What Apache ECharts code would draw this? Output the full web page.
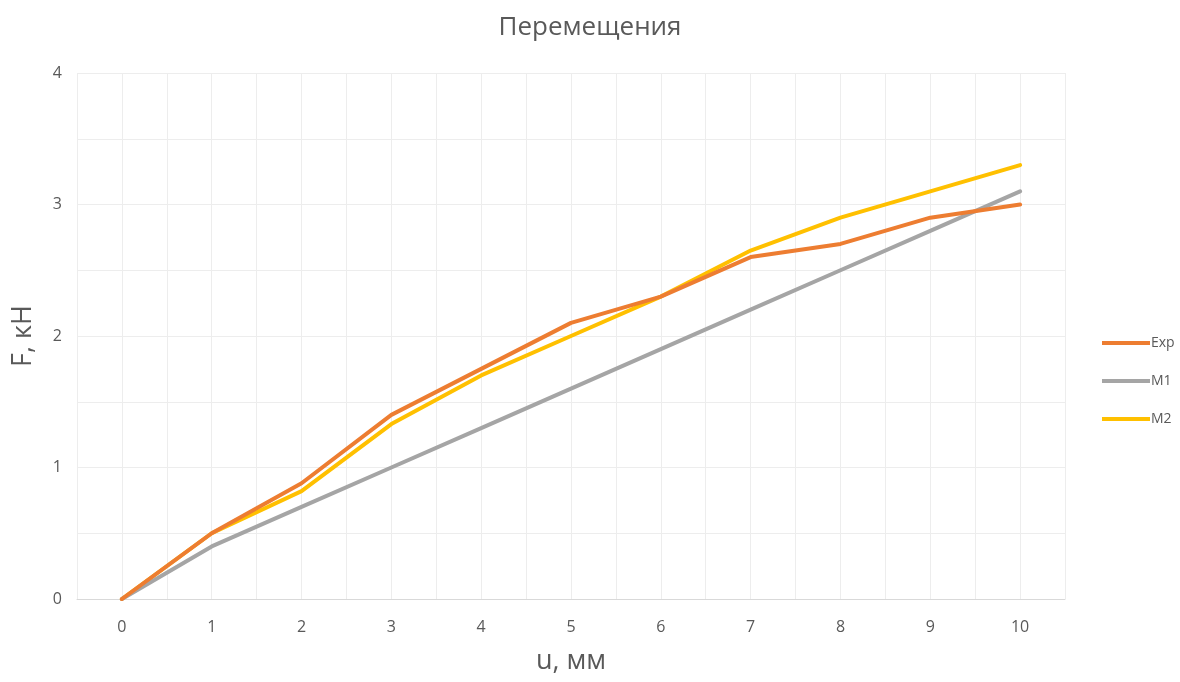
<!DOCTYPE html>
<html>
<head>
<meta charset="utf-8">
<script src="https://cdn.jsdelivr.net/npm/echarts@6/dist/echarts.min.js"></script>
<style>
  html, body { margin: 0; padding: 0; background: #fff; }
  #chart { width: 1180px; height: 682px; }
</style>
</head>
<body>
<div id="chart"></div>
<script>
// Displacement u, mm
const uValues = [0, 1, 2, 3, 4, 5, 6, 7, 8, 9, 10];
// Force F, kN
const expValues = [0, 0.5, 0.88, 1.4, 1.75, 2.1, 2.3, 2.6, 2.7, 2.9, 3.0];
const m1Values  = [0, 0.4, 0.7, 1.0, 1.3, 1.6, 1.9, 2.2, 2.5, 2.8, 3.1];
const m2Values  = [0, 0.5, 0.82, 1.33, 1.7, 2.0, 2.3, 2.65, 2.9, 3.1, 3.3];
const seriesNames = ['Exp', 'M1', 'M2'];
const seriesColors = ['#ED7D31', '#A5A5A5', '#FFC000'];

const FONT = '"Open Sans", "Noto Sans", sans-serif';
const pairs = vals => uValues.map((u, i) => [u, vals[i]]);

const chart = echarts.init(document.getElementById('chart'));
chart.setOption({
  animation: false,
  title: {
    text: 'Перемещения',
    left: 'center',
    top: 10,
    textStyle: { color: '#595959', fontSize: 26, fontWeight: 'normal', fontFamily: FONT }
  },
  legend: {
    orient: 'vertical',
    left: 1097,
    top: 331,
    itemWidth: 48,
    itemHeight: 4,
    itemGap: 24,
    icon: 'rect',
    textStyle: { color: '#595959', fontSize: 14, fontFamily: FONT, padding: [0, 0, 0, -4] },
    data: seriesNames
  },
  grid: { left: 77, right: 115, top: 73, bottom: 83, containLabel: false },
  xAxis: {
    type: 'value',
    min: -0.5,
    max: 10.5,
    interval: 0.5,
    name: 'u, мм',
    nameLocation: 'middle',
    nameGap: 49,
    nameTextStyle: { color: '#595959', fontSize: 27, fontFamily: FONT },
    axisLine: { show: true, lineStyle: { color: '#D9D9D9', width: 1 } },
    axisTick: { show: false },
    splitLine: { show: true, lineStyle: { color: '#EDEDED', width: 1 } },
    axisLabel: {
      color: '#595959', fontSize: 16, fontFamily: FONT, margin: 20,
      formatter: v => (Number.isInteger(v) && v >= 0 && v <= 10) ? String(v) : ''
    }
  },
  yAxis: {
    type: 'value',
    min: 0,
    max: 4,
    interval: 0.5,
    name: 'F, кН',
    nameLocation: 'middle',
    nameGap: 40,
    nameTextStyle: { color: '#595959', fontSize: 27, fontFamily: FONT },
    axisLine: { show: false },
    axisTick: { show: false },
    splitLine: { show: true, lineStyle: { color: '#EDEDED', width: 1 } },
    axisLabel: {
      color: '#595959', fontSize: 16, fontFamily: FONT, margin: 15,
      formatter: v => Number.isInteger(v) ? String(v) : ''
    }
  },
  series: [expValues, m1Values, m2Values].map((vals, i) => ({
    name: seriesNames[i],
    type: 'line',
    data: pairs(vals),
    symbol: 'none',
    color: seriesColors[i],
    lineStyle: { width: 4, color: seriesColors[i], cap: 'round', join: 'round' },
    z: 3 - i
  }))
});
</script>
</body>
</html>
